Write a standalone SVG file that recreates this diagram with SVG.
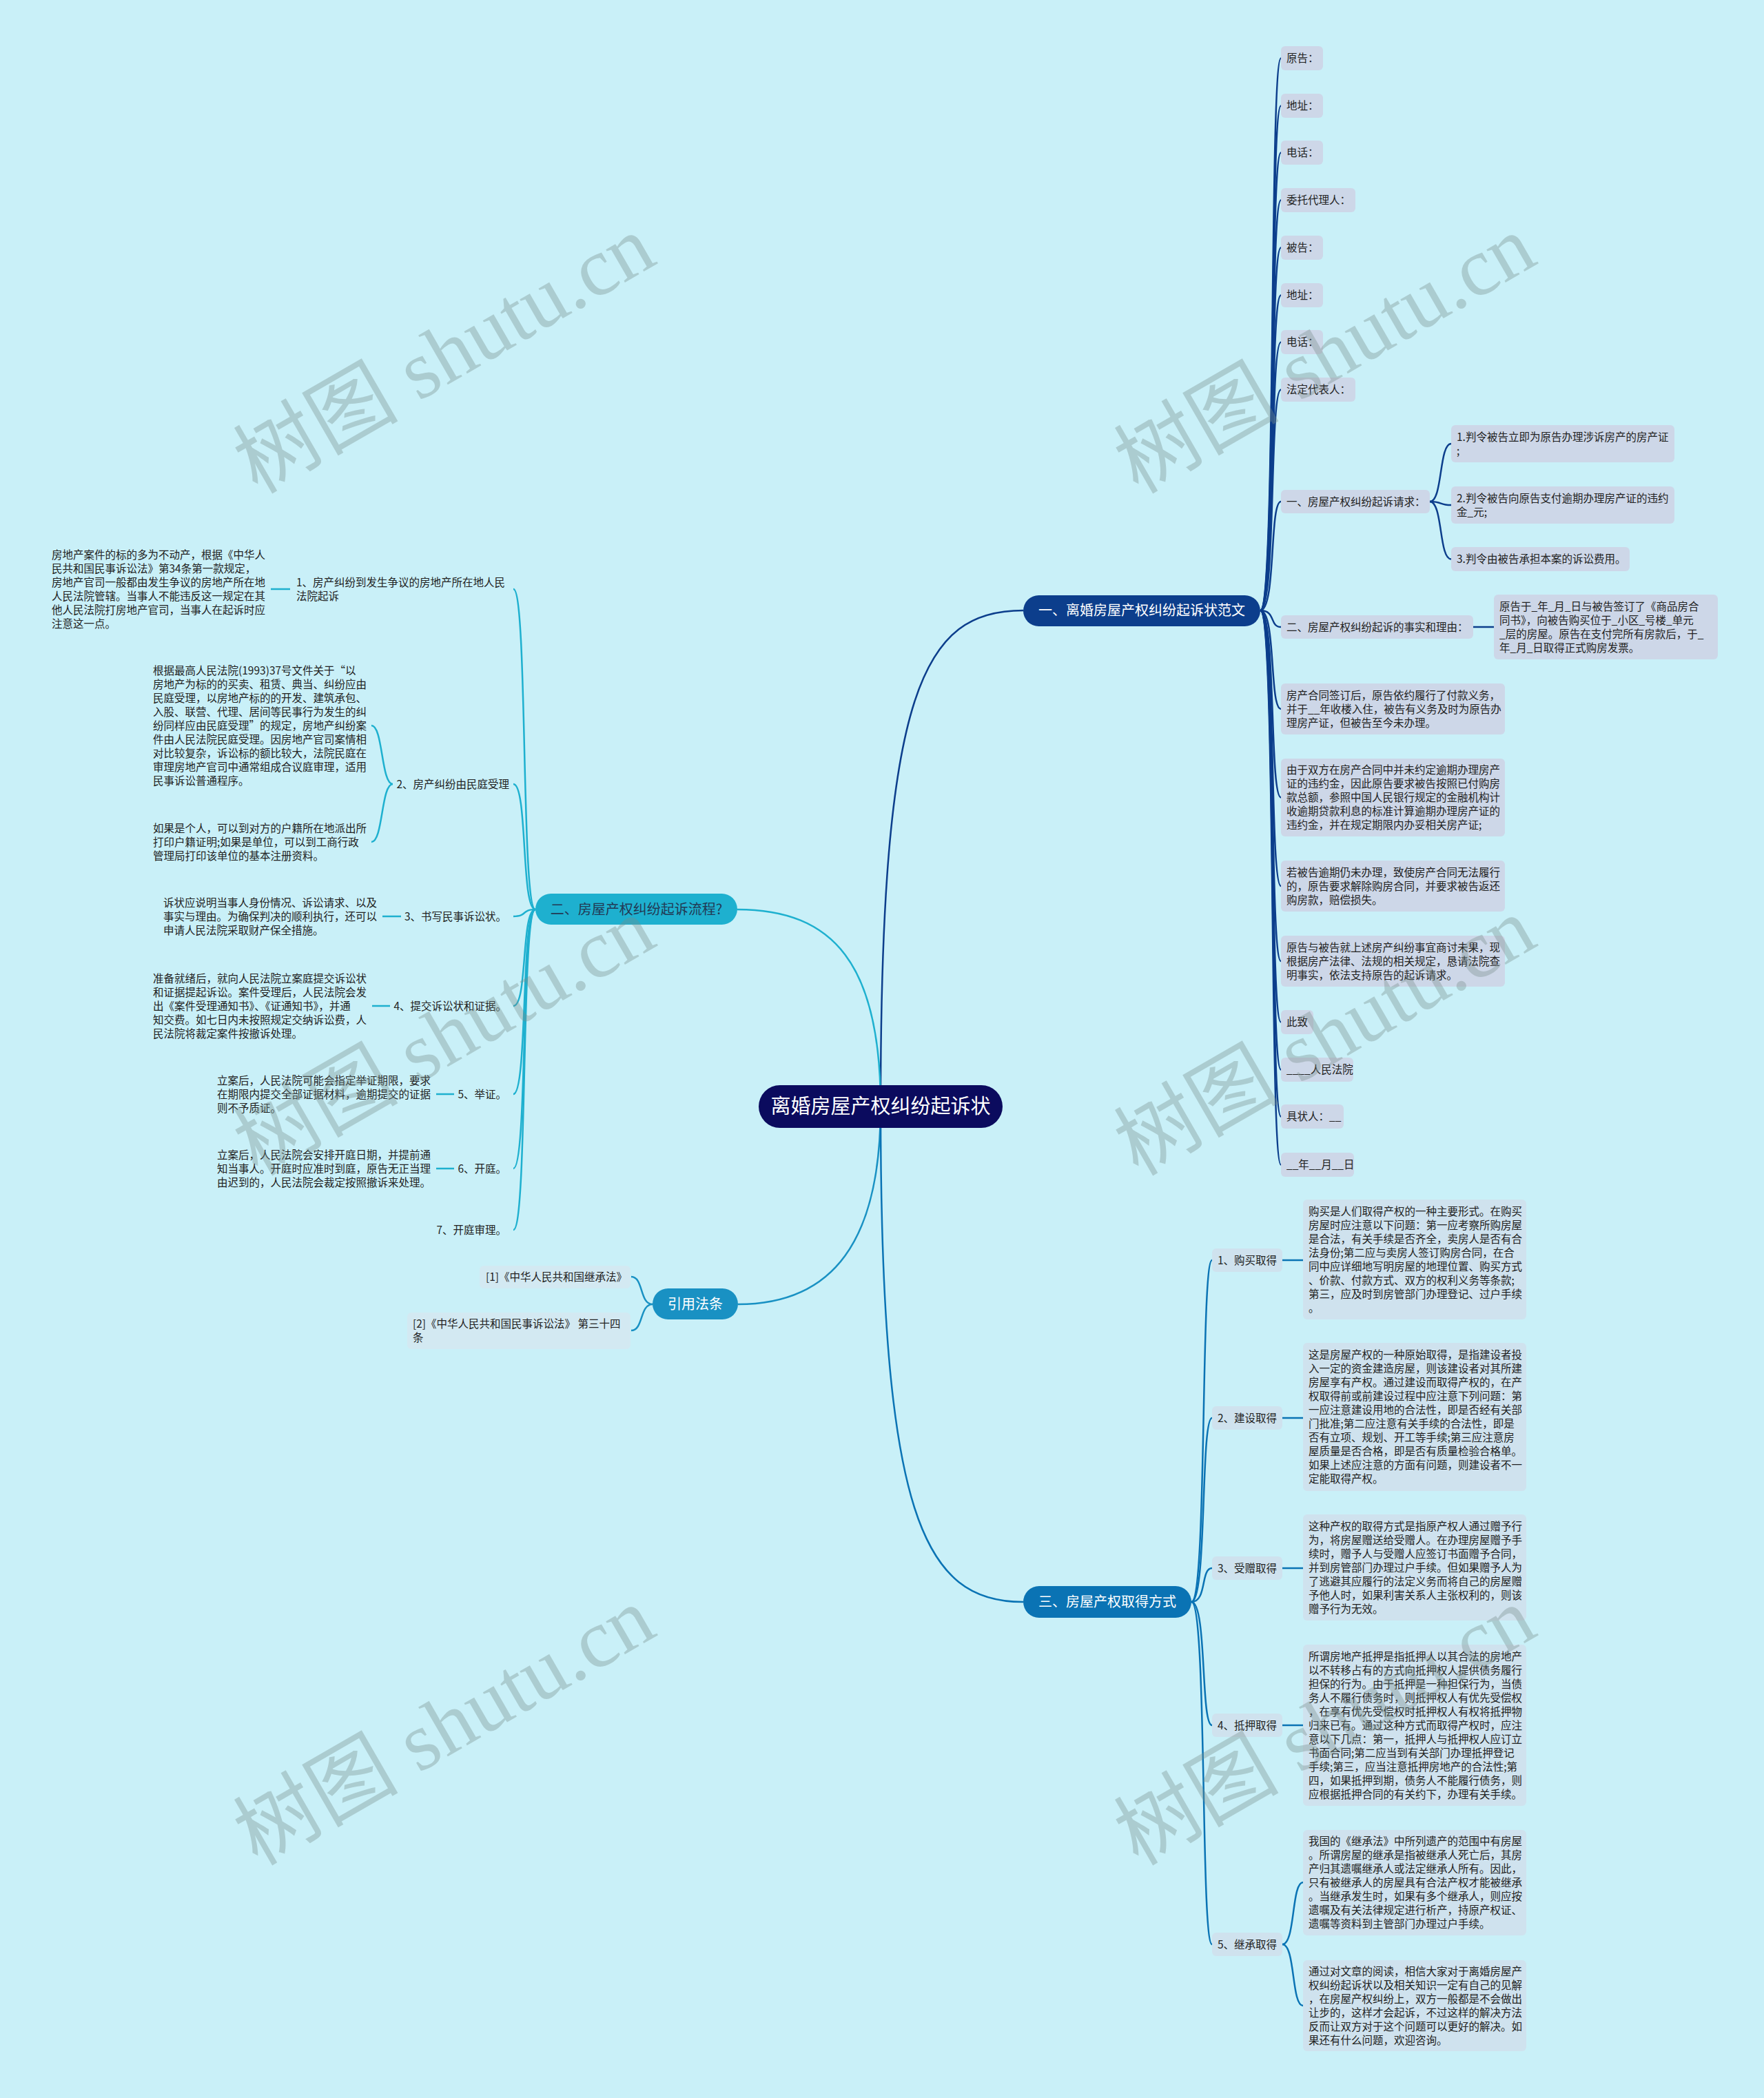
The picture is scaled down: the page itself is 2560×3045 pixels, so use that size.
<svg xmlns="http://www.w3.org/2000/svg" width="2560" height="3045" viewBox="0 0 2560 3045">
<defs>
<style>
.t{font-family:"Noto Sans CJK SC","Noto Sans",sans-serif;font-size:15.5px;fill:#222}
.b1{fill:#cdd7e8}
.b3{fill:#cfe2ee}
.br{fill:#d3e9f2}
.bt{font-family:"Noto Sans CJK SC","Noto Sans",sans-serif;font-size:20px;text-anchor:middle}
.c1{fill:none;stroke:#0c3e8c;stroke-width:2.5}
.c2{fill:none;stroke:#1eb0cf;stroke-width:2.5}
.cr{fill:none;stroke:#1991c3;stroke-width:2.5}
.c3{fill:none;stroke:#0a73b4;stroke-width:2.5}
.wm{font-family:"Liberation Serif","Noto Sans CJK SC",serif;font-size:120px;fill:#788c8a;fill-opacity:0.36;text-anchor:middle}
</style>
</defs>
<rect x="0" y="0" width="2560" height="3045" fill="#c9f0f8"/>

<g id="connectors">
<path class="c1" d="M1278,1606 C1278,1000 1340,886 1485,886" stroke-width="3"/>
<path class="c2" d="M1278,1606 C1278,1400 1210,1320 1070,1320" stroke-width="3"/>
<path class="cr" d="M1278,1606 C1278,1800 1210,1893 1071,1893" stroke-width="3"/>
<path class="c3" d="M1278,1606 C1278,2200 1340,2325 1485,2325" stroke-width="3"/>
<path class="c1" d="M1829,886 C1852,886 1842,84.5 1859,84.5"/>
<path class="c1" d="M1829,886 C1852,886 1842,153.5 1859,153.5"/>
<path class="c1" d="M1829,886 C1852,886 1842,221.5 1859,221.5"/>
<path class="c1" d="M1829,886 C1852,886 1842,290.5 1859,290.5"/>
<path class="c1" d="M1829,886 C1852,886 1842,359.5 1859,359.5"/>
<path class="c1" d="M1829,886 C1852,886 1842,428.5 1859,428.5"/>
<path class="c1" d="M1829,886 C1852,886 1842,496.5 1859,496.5"/>
<path class="c1" d="M1829,886 C1852,886 1842,565.5 1859,565.5"/>
<path class="c1" d="M1829,886 C1852,886 1842,728 1859,728"/>
<path class="c1" d="M1829,886 C1852,886 1842,910 1859,910"/>
<path class="c1" d="M1829,886 C1852,886 1842,1029 1859,1029"/>
<path class="c1" d="M1829,886 C1852,886 1842,1157.5 1859,1157.5"/>
<path class="c1" d="M1829,886 C1852,886 1842,1286 1859,1286"/>
<path class="c1" d="M1829,886 C1852,886 1842,1395 1859,1395"/>
<path class="c1" d="M1829,886 C1852,886 1842,1483.5 1859,1483.5"/>
<path class="c1" d="M1829,886 C1852,886 1842,1552.5 1859,1552.5"/>
<path class="c1" d="M1829,886 C1852,886 1842,1620.5 1859,1620.5"/>
<path class="c1" d="M1829,886 C1852,886 1842,1690.5 1859,1690.5"/>
<path class="c1" d="M2075,728 C2094,728 2088,644 2106,644"/>
<path class="c1" d="M2075,728 C2094,728 2088,733 2106,733"/>
<path class="c1" d="M2075,728 C2094,728 2088,811.5 2106,811.5"/>
<path class="c1" d="M2138,910 L2168,910"/>
<path class="c2" d="M777,1320 C756,1320 766,855 745,855"/>
<path class="c2" d="M777,1320 C756,1320 766,1138 745,1138"/>
<path class="c2" d="M777,1320 C756,1320 766,1330 745,1330"/>
<path class="c2" d="M777,1320 C756,1320 766,1460 745,1460"/>
<path class="c2" d="M777,1320 C756,1320 766,1588 745,1588"/>
<path class="c2" d="M777,1320 C756,1320 766,1696 745,1696"/>
<path class="c2" d="M777,1320 C756,1320 766,1785 745,1785"/>
<path class="c2" d="M393,855 L421,855"/>
<path class="c2" d="M570,1138 C553,1138 556,1053 539,1053"/>
<path class="c2" d="M570,1138 C553,1138 556,1222 539,1222"/>
<path class="c2" d="M555,1330 L582,1330"/>
<path class="c2" d="M540,1460 L566,1460"/>
<path class="c2" d="M633,1588 L659,1588"/>
<path class="c2" d="M633,1696 L659,1696"/>
<path class="cr" d="M947,1893 C928,1893 934,1853 916,1853"/>
<path class="cr" d="M947,1893 C928,1893 934,1931 916,1931"/>
<path class="c3" d="M1729,2325 C1752,2325 1742,1829 1759,1829"/>
<path class="c3" d="M1729,2325 C1752,2325 1742,2058 1759,2058"/>
<path class="c3" d="M1729,2325 C1752,2325 1742,2276 1759,2276"/>
<path class="c3" d="M1729,2325 C1752,2325 1742,2504 1759,2504"/>
<path class="c3" d="M1729,2325 C1752,2325 1742,2822 1759,2822"/>
<path class="c3" d="M1861,1829 L1891,1829"/>
<path class="c3" d="M1861,2058 L1891,2058"/>
<path class="c3" d="M1861,2276 L1891,2276"/>
<path class="c3" d="M1861,2504 L1891,2504"/>
<path class="c3" d="M1861,2822 C1880,2822 1874,2732 1891,2732"/>
<path class="c3" d="M1861,2822 C1880,2822 1874,2911 1891,2911"/>
</g>

<g id="root">
<rect x="1101" y="1575" width="354" height="62" rx="31" fill="#0b0b5e"/>
<text class="bt" x="1278" y="1616" style="font-size:29px" fill="#ffffff">离婚房屋产权纠纷起诉状</text>
</g>

<g id="branch1">
<rect x="1485" y="864" width="344" height="45" rx="22.5" fill="#0c3e8c"/>
<text class="bt" x="1657" y="893" fill="#ffffff">一、离婚房屋产权纠纷起诉状范文</text>
</g>
<g id="branch2">
<rect x="777" y="1297" width="293" height="45" rx="22.5" fill="#1eb0cf"/>
<text class="bt" x="923.5" y="1327" fill="#223a55">二、房屋产权纠纷起诉流程?</text>
</g>
<g id="branchRef">
<rect x="947" y="1870" width="124" height="45" rx="22.5" fill="#1991c3"/>
<text class="bt" x="1009" y="1900" fill="#ffffff">引用法条</text>
</g>
<g id="branch3">
<rect x="1485" y="2302" width="244" height="46" rx="23" fill="#0a73b4"/>
<text class="bt" x="1607" y="2332" fill="#ffffff">三、房屋产权取得方式</text>
</g>

<g id="n1-1"><rect class="b1" x="1859" y="67" width="61" height="35" rx="6"/><text class="t" x="1867" y="90">原告：</text></g>
<g id="n1-2"><rect class="b1" x="1859" y="136" width="61" height="35" rx="6"/><text class="t" x="1867" y="159">地址：</text></g>
<g id="n1-3"><rect class="b1" x="1859" y="204" width="61" height="35" rx="6"/><text class="t" x="1867" y="227">电话：</text></g>
<g id="n1-4"><rect class="b1" x="1859" y="273" width="108" height="35" rx="6"/><text class="t" x="1867" y="296">委托代理人：</text></g>
<g id="n1-5"><rect class="b1" x="1859" y="342" width="61" height="35" rx="6"/><text class="t" x="1867" y="365">被告：</text></g>
<g id="n1-6"><rect class="b1" x="1859" y="411" width="61" height="35" rx="6"/><text class="t" x="1867" y="434">地址：</text></g>
<g id="n1-7"><rect class="b1" x="1859" y="479" width="61" height="35" rx="6"/><text class="t" x="1867" y="502">电话：</text></g>
<g id="n1-8"><rect class="b1" x="1859" y="548" width="108" height="35" rx="6"/><text class="t" x="1867" y="571">法定代表人：</text></g>
<g id="n1-9"><rect class="b1" x="1859" y="711" width="216" height="34" rx="6"/><text class="t" x="1867" y="733.5">一、房屋产权纠纷起诉请求：</text></g>
<g id="n1-9a"><rect class="b1" x="2106" y="617" width="324" height="54" rx="6"/><text class="t" x="2114" y="639.5">1.判令被告立即为原告办理涉诉房产的房产证</text><text class="t" x="2114" y="659.5">;</text></g>
<g id="n1-9b"><rect class="b1" x="2106" y="706" width="324" height="54" rx="6"/><text class="t" x="2114" y="728.5">2.判令被告向原告支付逾期办理房产证的违约</text><text class="t" x="2114" y="748.5">金_元;</text></g>
<g id="n1-9c"><rect class="b1" x="2106" y="794" width="259" height="35" rx="6"/><text class="t" x="2114" y="817">3.判令由被告承担本案的诉讼费用。</text></g>
<g id="n1-10"><rect class="b1" x="1859" y="893" width="279" height="34" rx="6"/><text class="t" x="1867" y="915.5">二、房屋产权纠纷起诉的事实和理由：</text></g>
<g id="n1-10a"><rect class="b1" x="2168" y="863" width="325" height="94" rx="6"/>
<text class="t" x="2176" y="885.5">原告于_年_月_日与被告签订了《商品房合</text>
<text class="t" x="2176" y="905.5">同书》，向被告购买位于_小区_号楼_单元</text>
<text class="t" x="2176" y="925.5">_层的房屋。原告在支付完所有房款后，于_</text>
<text class="t" x="2176" y="945.5">年_月_日取得正式购房发票。</text></g>
<g id="n1-11"><rect class="b1" x="1859" y="992" width="325" height="74" rx="6"/>
<text class="t" x="1867" y="1014.5">房产合同签订后，原告依约履行了付款义务，</text>
<text class="t" x="1867" y="1034.5">并于__年收楼入住，被告有义务及时为原告办</text>
<text class="t" x="1867" y="1054.5">理房产证，但被告至今未办理。</text></g>
<g id="n1-12"><rect class="b1" x="1859" y="1101" width="325" height="113" rx="6"/>
<text class="t" x="1867" y="1123">由于双方在房产合同中并未约定逾期办理房产</text>
<text class="t" x="1867" y="1143">证的违约金，因此原告要求被告按照已付购房</text>
<text class="t" x="1867" y="1163">款总额，参照中国人民银行规定的金融机构计</text>
<text class="t" x="1867" y="1183">收逾期贷款利息的标准计算逾期办理房产证的</text>
<text class="t" x="1867" y="1203">违约金，并在规定期限内办妥相关房产证;</text></g>
<g id="n1-13"><rect class="b1" x="1859" y="1249" width="325" height="74" rx="6"/>
<text class="t" x="1867" y="1271.5">若被告逾期仍未办理，致使房产合同无法履行</text>
<text class="t" x="1867" y="1291.5">的，原告要求解除购房合同，并要求被告返还</text>
<text class="t" x="1867" y="1311.5">购房款，赔偿损失。</text></g>
<g id="n1-14"><rect class="b1" x="1859" y="1358" width="325" height="74" rx="6"/>
<text class="t" x="1867" y="1380.5">原告与被告就上述房产纠纷事宜商讨未果，现</text>
<text class="t" x="1867" y="1400.5">根据房产法律、法规的相关规定，恳请法院查</text>
<text class="t" x="1867" y="1420.5">明事实，依法支持原告的起诉请求。</text></g>
<g id="n1-15"><rect class="b1" x="1859" y="1466" width="47" height="35" rx="6"/><text class="t" x="1867" y="1489">此致</text></g>
<g id="n1-16"><rect class="b1" x="1859" y="1535" width="105" height="35" rx="6"/><text class="t" x="1867" y="1558">____人民法院</text></g>
<g id="n1-17"><rect class="b1" x="1859" y="1603" width="91" height="35" rx="6"/><text class="t" x="1867" y="1626">具状人：__</text></g>
<g id="n1-18"><rect class="b1" x="1859" y="1673" width="106" height="35" rx="6"/><text class="t" x="1867" y="1696">__年__月__日</text></g>

<g id="n2-1"><text class="t" x="430" y="850.5">1、房产纠纷到发生争议的房地产所在地人民</text><text class="t" x="430" y="870.5">法院起诉</text></g>
<g id="n2-1a">
<text class="t" x="75" y="810.5">房地产案件的标的多为不动产，根据《中华人</text>
<text class="t" x="75" y="830.5">民共和国民事诉讼法》第34条第一款规定，</text>
<text class="t" x="75" y="850.5">房地产官司一般都由发生争议的房地产所在地</text>
<text class="t" x="75" y="870.5">人民法院管辖。当事人不能违反这一规定在其</text>
<text class="t" x="75" y="890.5">他人民法院打房地产官司，当事人在起诉时应</text>
<text class="t" x="75" y="910.5">注意这一点。</text></g>
<g id="n2-2"><text class="t" x="739" y="1143.5" text-anchor="end">2、房产纠纷由民庭受理</text></g>
<g id="n2-2a">
<text class="t" x="222" y="978.5">根据最高人民法院(1993)37号文件关于“以</text>
<text class="t" x="222" y="998.5">房地产为标的的买卖、租赁、典当、纠纷应由</text>
<text class="t" x="222" y="1018.5">民庭受理，以房地产标的的开发、建筑承包、</text>
<text class="t" x="222" y="1038.5">入股、联营、代理、居间等民事行为发生的纠</text>
<text class="t" x="222" y="1058.5">纷同样应由民庭受理”的规定，房地产纠纷案</text>
<text class="t" x="222" y="1078.5">件由人民法院民庭受理。因房地产官司案情相</text>
<text class="t" x="222" y="1098.5">对比较复杂，诉讼标的额比较大，法院民庭在</text>
<text class="t" x="222" y="1118.5">审理房地产官司中通常组成合议庭审理，适用</text>
<text class="t" x="222" y="1138.5">民事诉讼普通程序。</text></g>
<g id="n2-2b">
<text class="t" x="222" y="1207.5">如果是个人，可以到对方的户籍所在地派出所</text>
<text class="t" x="222" y="1227.5">打印户籍证明;如果是单位，可以到工商行政</text>
<text class="t" x="222" y="1247.5">管理局打印该单位的基本注册资料。</text></g>
<g id="n2-3"><text class="t" x="735" y="1335.5" text-anchor="end">3、书写民事诉讼状。</text></g>
<g id="n2-3a">
<text class="t" x="237" y="1315.5">诉状应说明当事人身份情况、诉讼请求、以及</text>
<text class="t" x="237" y="1335.5">事实与理由。为确保判决的顺利执行，还可以</text>
<text class="t" x="237" y="1355.5">申请人民法院采取财产保全措施。</text></g>
<g id="n2-4"><text class="t" x="735" y="1465.5" text-anchor="end">4、提交诉讼状和证据。</text></g>
<g id="n2-4a">
<text class="t" x="222" y="1425.5">准备就绪后，就向人民法院立案庭提交诉讼状</text>
<text class="t" x="222" y="1445.5">和证据提起诉讼。案件受理后，人民法院会发</text>
<text class="t" x="222" y="1465.5">出《案件受理通知书》、《证通知书》，并通</text>
<text class="t" x="222" y="1485.5">知交费。如七日内未按照规定交纳诉讼费，人</text>
<text class="t" x="222" y="1505.5">民法院将裁定案件按撤诉处理。</text></g>
<g id="n2-5"><text class="t" x="735" y="1593.5" text-anchor="end">5、举证。</text></g>
<g id="n2-5a">
<text class="t" x="315" y="1573.5">立案后，人民法院可能会指定举证期限，要求</text>
<text class="t" x="315" y="1593.5">在期限内提交全部证据材料，逾期提交的证据</text>
<text class="t" x="315" y="1613.5">则不予质证。</text></g>
<g id="n2-6"><text class="t" x="735" y="1701.5" text-anchor="end">6、开庭。</text></g>
<g id="n2-6a">
<text class="t" x="315" y="1681.5">立案后，人民法院会安排开庭日期，并提前通</text>
<text class="t" x="315" y="1701.5">知当事人。开庭时应准时到庭，原告无正当理</text>
<text class="t" x="315" y="1721.5">由迟到的，人民法院会裁定按照撤诉来处理。</text></g>
<g id="n2-7"><text class="t" x="735" y="1790.5" text-anchor="end">7、开庭审理。</text></g>

<g id="ref-1"><rect class="br" x="696" y="1837" width="219" height="33" rx="6"/><text class="t" x="705" y="1859">[1]《中华人民共和国继承法》</text></g>
<g id="ref-2"><rect class="br" x="591" y="1905" width="324" height="53" rx="6"/><text class="t" x="599" y="1927">[2]《中华人民共和国民事诉讼法》 第三十四</text><text class="t" x="599" y="1947">条</text></g>

<g id="n3-1"><rect class="b3" x="1759" y="1812" width="102" height="34" rx="6"/><text class="t" x="1767" y="1834.5">1、购买取得</text></g>
<g id="n3-1a"><rect class="b3" x="1891" y="1741" width="324" height="174" rx="6"/>
<text class="t" x="1899" y="1763.5">购买是人们取得产权的一种主要形式。在购买</text>
<text class="t" x="1899" y="1783.5">房屋时应注意以下问题：第一应考察所购房屋</text>
<text class="t" x="1899" y="1803.5">是合法，有关手续是否齐全，卖房人是否有合</text>
<text class="t" x="1899" y="1823.5">法身份;第二应与卖房人签订购房合同，在合</text>
<text class="t" x="1899" y="1843.5">同中应详细地写明房屋的地理位置、购买方式</text>
<text class="t" x="1899" y="1863.5">、价款、付款方式、双方的权利义务等条款;</text>
<text class="t" x="1899" y="1883.5">第三，应及时到房管部门办理登记、过户手续</text>
<text class="t" x="1899" y="1903.5">。</text></g>
<g id="n3-2"><rect class="b3" x="1759" y="2041" width="102" height="34" rx="6"/><text class="t" x="1767" y="2063.5">2、建设取得</text></g>
<g id="n3-2a"><rect class="b3" x="1891" y="1949" width="324" height="215" rx="6"/>
<text class="t" x="1899" y="1972">这是房屋产权的一种原始取得，是指建设者投</text>
<text class="t" x="1899" y="1992">入一定的资金建造房屋，则该建设者对其所建</text>
<text class="t" x="1899" y="2012">房屋享有产权。通过建设而取得产权的，在产</text>
<text class="t" x="1899" y="2032">权取得前或前建设过程中应注意下列问题：第</text>
<text class="t" x="1899" y="2052">一应注意建设用地的合法性，即是否经有关部</text>
<text class="t" x="1899" y="2072">门批准;第二应注意有关手续的合法性，即是</text>
<text class="t" x="1899" y="2092">否有立项、规划、开工等手续;第三应注意房</text>
<text class="t" x="1899" y="2112">屋质量是否合格，即是否有质量检验合格单。</text>
<text class="t" x="1899" y="2132">如果上述应注意的方面有问题，则建设者不一</text>
<text class="t" x="1899" y="2152">定能取得产权。</text></g>
<g id="n3-3"><rect class="b3" x="1759" y="2259" width="102" height="34" rx="6"/><text class="t" x="1767" y="2281.5">3、受赠取得</text></g>
<g id="n3-3a"><rect class="b3" x="1891" y="2198" width="324" height="154" rx="6"/>
<text class="t" x="1899" y="2220.5">这种产权的取得方式是指原产权人通过赠予行</text>
<text class="t" x="1899" y="2240.5">为，将房屋赠送给受赠人。在办理房屋赠予手</text>
<text class="t" x="1899" y="2260.5">续时，赠予人与受赠人应签订书面赠予合同，</text>
<text class="t" x="1899" y="2280.5">并到房管部门办理过户手续。但如果赠予人为</text>
<text class="t" x="1899" y="2300.5">了逃避其应履行的法定义务而将自己的房屋赠</text>
<text class="t" x="1899" y="2320.5">予他人时，如果利害关系人主张权利的，则该</text>
<text class="t" x="1899" y="2340.5">赠予行为无效。</text></g>
<g id="n3-4"><rect class="b3" x="1759" y="2487" width="102" height="34" rx="6"/><text class="t" x="1767" y="2509.5">4、抵押取得</text></g>
<g id="n3-4a"><rect class="b3" x="1891" y="2387" width="324" height="234" rx="6"/>
<text class="t" x="1899" y="2409.5">所谓房地产抵押是指抵押人以其合法的房地产</text>
<text class="t" x="1899" y="2429.5">以不转移占有的方式向抵押权人提供债务履行</text>
<text class="t" x="1899" y="2449.5">担保的行为。由于抵押是一种担保行为，当债</text>
<text class="t" x="1899" y="2469.5">务人不履行债务时，则抵押权人有优先受偿权</text>
<text class="t" x="1899" y="2489.5">，在享有优先受偿权时抵押权人有权将抵押物</text>
<text class="t" x="1899" y="2509.5">归来已有。通过这种方式而取得产权时，应注</text>
<text class="t" x="1899" y="2529.5">意以下几点：第一，抵押人与抵押权人应订立</text>
<text class="t" x="1899" y="2549.5">书面合同;第二应当到有关部门办理抵押登记</text>
<text class="t" x="1899" y="2569.5">手续;第三，应当注意抵押房地产的合法性;第</text>
<text class="t" x="1899" y="2589.5">四，如果抵押到期，债务人不能履行债务，则</text>
<text class="t" x="1899" y="2609.5">应根据抵押合同的有关约下，办理有关手续。</text></g>
<g id="n3-5"><rect class="b3" x="1759" y="2805" width="102" height="34" rx="6"/><text class="t" x="1767" y="2827.5">5、继承取得</text></g>
<g id="n3-5a"><rect class="b3" x="1891" y="2656" width="324" height="153" rx="6"/>
<text class="t" x="1899" y="2678">我国的《继承法》中所列遗产的范围中有房屋</text>
<text class="t" x="1899" y="2698">。所谓房屋的继承是指被继承人死亡后，其房</text>
<text class="t" x="1899" y="2718">产归其遗嘱继承人或法定继承人所有。因此，</text>
<text class="t" x="1899" y="2738">只有被继承人的房屋具有合法产权才能被继承</text>
<text class="t" x="1899" y="2758">。当继承发生时，如果有多个继承人，则应按</text>
<text class="t" x="1899" y="2778">遗嘱及有关法律规定进行析产，持原产权证、</text>
<text class="t" x="1899" y="2798">遗嘱等资料到主管部门办理过户手续。</text></g>
<g id="n3-5b"><rect class="b3" x="1891" y="2845" width="324" height="132" rx="6"/>
<text class="t" x="1899" y="2866.5">通过对文章的阅读，相信大家对于离婚房屋产</text>
<text class="t" x="1899" y="2886.5">权纠纷起诉状以及相关知识一定有自己的见解</text>
<text class="t" x="1899" y="2906.5">，在房屋产权纠纷上，双方一般都是不会做出</text>
<text class="t" x="1899" y="2926.5">让步的，这样才会起诉，不过这样的解决方法</text>
<text class="t" x="1899" y="2946.5">反而让双方对于这个问题可以更好的解决。如</text>
<text class="t" x="1899" y="2966.5">果还有什么问题，欢迎咨询。</text></g>

<g id="watermarks">
<text class="wm" transform="translate(645,515) rotate(-30)" x="0" y="40">树图 shutu.cn</text>
<text class="wm" transform="translate(1923,515) rotate(-30)" x="0" y="40">树图 shutu.cn</text>
<text class="wm" transform="translate(645,1505) rotate(-30)" x="0" y="40">树图 shutu.cn</text>
<text class="wm" transform="translate(1923,1505) rotate(-30)" x="0" y="40">树图 shutu.cn</text>
<text class="wm" transform="translate(645,2506) rotate(-30)" x="0" y="40">树图 shutu.cn</text>
<text class="wm" transform="translate(1923,2506) rotate(-30)" x="0" y="40">树图 shutu.cn</text>
</g>
</svg>
